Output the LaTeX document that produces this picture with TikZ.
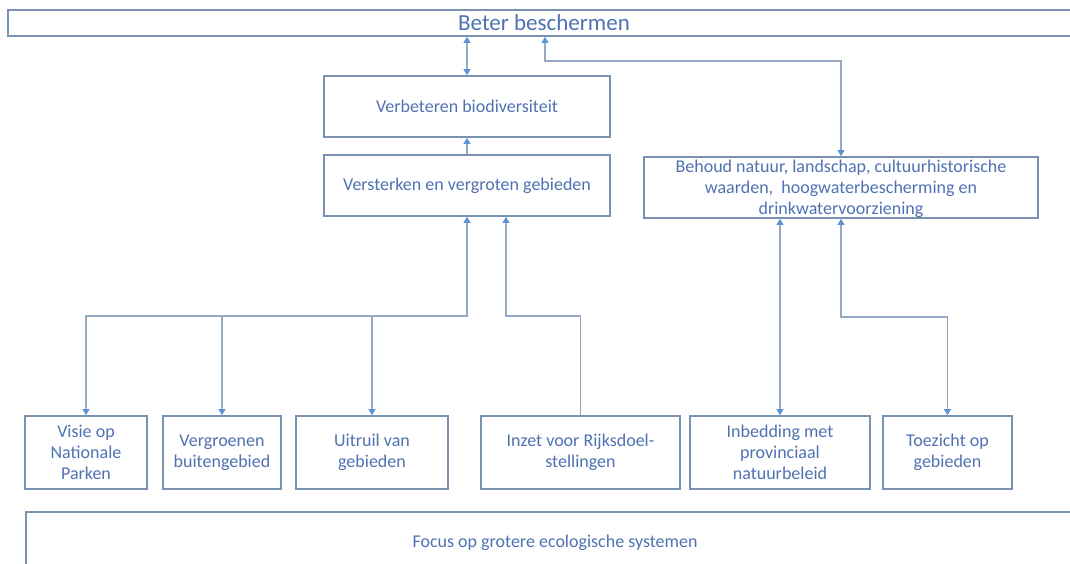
\documentclass[tikz,border=0pt]{standalone}
\usepackage{fontspec}
\setmainfont{Carlito}
\usetikzlibrary{arrows.meta}
\definecolor{boxc}{RGB}{122,145,178}
\definecolor{txtc}{RGB}{79,114,178}
\definecolor{linec}{RGB}{150,168,194}
\definecolor{tipc}{RGB}{91,150,210}
\begin{document}
\begin{tikzpicture}[x=1pt,y=-1pt,
  box/.style={draw=boxc, line width=1.7pt, fill=white, inner sep=0pt, align=center,
    text=txtc, font=\fontsize{18}{21}\selectfont},
  txt/.style={inner sep=0pt, align=center, text=txtc, font=\fontsize{18}{21}\selectfont},
  conn/.style={draw=linec, line width=1.1pt, >={Triangle[width=7pt,length=6pt,color=tipc]}},
  ]
\useasboundingbox (0,0) rectangle (1070,564);
% top box (runs off the right edge)
\node[box, minimum width=1072pt, minimum height=26pt, font=\fontsize{23}{26}\selectfont]
  (top) at (544,23) {Beter beschermen};
\node[box, minimum width=286pt, minimum height=61pt] (verb) at (467,106.5) {Verbeteren biodiversiteit};
\node[box, minimum width=286pt, minimum height=61pt] (verst) at (467,185.5) {Versterken en vergroten gebieden};
\node[box, minimum width=394pt, minimum height=61pt] (behoud) at (841,187.5) {};
\node[txt] (behoudtxt) at (841,189) {Behoud natuur, landschap, cultuurhistorische\\waarden,\ \ hoogwaterbescherming en\\drinkwatervoorziening};
% bottom row
\node[box, minimum width=122pt, minimum height=73pt] (visie) at (86,452.5) {Visie op\\Nationale\\Parken};
\node[box, minimum width=118pt, minimum height=73pt] (vergr) at (222,452.5) {Vergroenen\\buitengebied};
\node[box, minimum width=152pt, minimum height=73pt] (uitruil) at (372,452.5) {Uitruil van\\gebieden};
\node[box, minimum width=199pt, minimum height=73pt] (inzet) at (580.5,452.5) {Inzet voor Rijksdoel-\\stellingen};
\node[box, minimum width=180pt, minimum height=73pt] (inbed) at (780,452.5) {Inbedding met\\provinciaal\\natuurbeleid};
\node[box, minimum width=129pt, minimum height=73pt] (toez) at (947.5,452.5) {Toezicht op\\gebieden};
% focus box (runs off right and bottom edges)
\node[box, minimum width=1054pt, minimum height=88pt] (focusbox) at (553,556) {};
\node[txt] (focus) at (555,543) {Focus op grotere ecologische systemen};
% connectors
\coordinate (c1) at (545,61);
\coordinate (j1) at (467,316);
\coordinate (j2) at (506,316);
\coordinate (j3) at (841,317);
\draw[conn,<->] (top.south -| verb.north) -- (verb.north);
\draw[conn,<->] (top.south -| c1) -- (c1) -| (behoud.north);
\draw[conn,->] (verst.north) -- (verb.south);
\draw[conn,<->] (verst.south) -- (j1) -| (visie.north);
\draw[conn,->] (j1 -| vergr.north) -- (vergr.north);
\draw[conn,->] (j1 -| uitruil.north) -- (uitruil.north);
\draw[conn,->] (inzet.north) |- (j2) -- (j2 |- verst.south);
\draw[conn,<->] (behoud.south -| inbed.north) -- (inbed.north);
\draw[conn,<->] (behoud.south) -- (j3) -| (toez.north);
\end{tikzpicture}
\end{document}
